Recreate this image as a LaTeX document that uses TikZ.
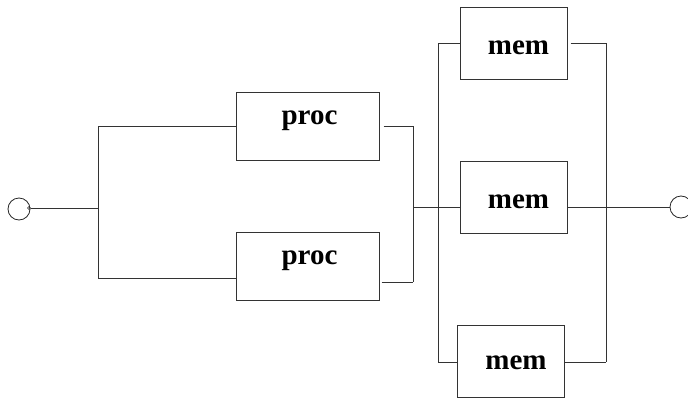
\documentclass[tikz,border=0pt]{standalone}
\usepackage{fontspec}
\setmainfont{Liberation Serif}
\begin{document}
\begin{tikzpicture}[x=1pt,y=-1pt,line width=1pt,
  wire/.style={draw=black!80,line width=1pt},
  pbox/.style={draw=black!80,line width=1pt,rectangle,inner sep=0pt,minimum width=143pt,minimum height=68pt},
  mbox/.style={draw=black!80,line width=1pt,rectangle,inner sep=0pt,minimum width=107pt,minimum height=72pt},
  lbl/.style={anchor=base,inner sep=0pt,font=\fontsize{29pt}{29pt}\selectfont\bfseries},
  port/.style={draw=black!85,line width=0.8pt,circle,inner sep=0pt,minimum size=22pt},
  dot/.style={draw=black!85,line width=0.6pt,circle,inner sep=0pt,minimum size=3pt}]
\useasboundingbox (0,0) rectangle (688,399);
% boxes
\node[pbox] (p1) at (307.5,126) {};
\node[pbox] (p2) at (307.5,266) {};
\node[mbox] (m1) at (513.5,43) {};
\node[mbox] (m2) at (513.5,197) {};
\node[mbox] (m3) at (510.5,361) {};
\node[lbl] (t1) at (309.5,124) {proc};
\node[lbl] (t2) at (309.5,264) {proc};
\node[lbl] (t3) at (518.5,54) {mem};
\node[lbl] (t4) at (518.5,208) {mem};
\node[lbl] (t5) at (516,369) {mem};
% ports
\node[port] (lc) at (19,209) {};
\node[dot] (ld) at (29,208) {};
\node[port] (rc) at (681,207) {};
% bus coordinates
\coordinate (a0) at (98,208);
\coordinate (a1) at (98,126);
\coordinate (a2) at (98,278);
\coordinate (b1) at (413,126);
\coordinate (b2) at (413,282);
\coordinate (b0) at (413,207);
\coordinate (c1) at (438,43);
\coordinate (c3) at (438,362);
\coordinate (d1) at (606,43);
\coordinate (d3) at (606,362);
% wires
\draw[wire] (ld.east) -- (a0);
\draw[wire] (a1) -- (a2);
\draw[wire] (a1) -- (p1.west |- a1);
\draw[wire] (a2) -- (p2.west |- a2);
\draw[wire] ([xshift=4pt]p1.east |- b1) -- (b1);
\draw[wire] ([xshift=2pt]p2.east |- b2) -- (b2);
\draw[wire] (b1) -- (b2);
\draw[wire] (b0) -- (m2.west |- b0);
\draw[wire] (c1) -- (c3);
\draw[wire] (c1) -- (m1.west |- c1);
\draw[wire] (c3) -- (m3.west |- c3);
\draw[wire] ([xshift=3pt]m1.east |- d1) -- (d1);
\draw[wire] (m3.east |- d3) -- (d3);
\draw[wire] (d1) -- (d3);
\draw[wire] (m2.east |- rc) -- (rc.west);
\end{tikzpicture}
\end{document}
